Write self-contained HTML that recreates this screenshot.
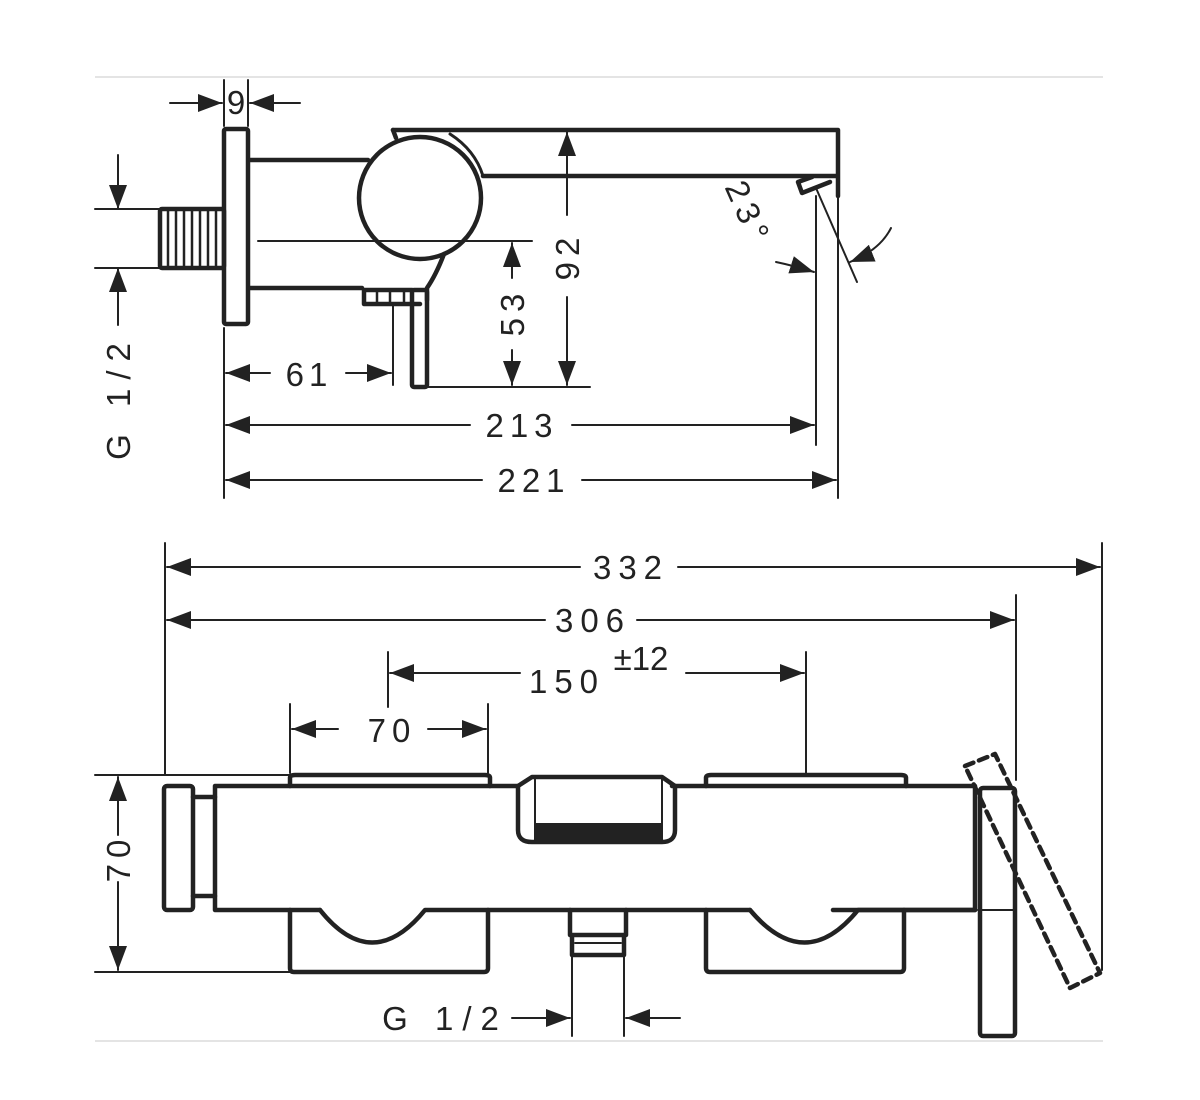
<!DOCTYPE html>
<html><head><meta charset="utf-8"><style>
html,body{margin:0;padding:0;background:#fff;}
svg{display:block;}
text{font-family:"Liberation Sans","DejaVu Sans",sans-serif;fill:#222;font-size:33px;}
</style></head><body>
<svg width="1200" height="1100" viewBox="0 0 1200 1100" xmlns="http://www.w3.org/2000/svg">
<defs>
<marker id="a" viewBox="0 0 24 18" refX="24" refY="9" markerWidth="24" markerHeight="18" markerUnits="userSpaceOnUse" orient="auto"><path d="M0,0 L24,9 L0,18 Z" fill="#222"/></marker>
</defs>
<line x1="95" y1="77" x2="1103" y2="77" stroke="#e4e4e4" stroke-width="2"/>
<line x1="95" y1="1041" x2="1103" y2="1041" stroke="#e4e4e4" stroke-width="2"/>

<g stroke="#222" fill="none" stroke-linecap="round" stroke-linejoin="round">
<g stroke-width="4.5">
<rect x="224" y="129" width="24" height="195" rx="2"/>
<rect x="160" y="209" width="64" height="59" rx="2"/>
<line x1="250" y1="160" x2="368" y2="160"/>
<line x1="250" y1="288" x2="362" y2="288"/>
<circle cx="420" cy="198" r="61"/>
<path d="M393,130 L838,130 L838,196 M483,176 L838,176"/>
<path d="M393,130 L396,138"/>
<path d="M450,134 Q475,150 483,176" stroke-width="3"/>
<path d="M812,177 L798,182 L802,193 L830,182"/>
<rect x="412" y="290" width="15" height="97" rx="2"/>
<path d="M364,290 L364,304 L420,304 M364,290 L412,290"/>
<path d="M444,254 Q436,275 427,288 L427,300"/>
</g>
<g stroke-width="2.5">
<line x1="168" y1="211" x2="168" y2="266"/><line x1="176" y1="211" x2="176" y2="266"/><line x1="184" y1="211" x2="184" y2="266"/><line x1="192" y1="211" x2="192" y2="266"/><line x1="200" y1="211" x2="200" y2="266"/><line x1="208" y1="211" x2="208" y2="266"/><line x1="216" y1="211" x2="216" y2="266"/>
<line x1="377" y1="292" x2="377" y2="303"/><line x1="390" y1="292" x2="390" y2="303"/><line x1="404" y1="292" x2="404" y2="303"/>
</g>
<g stroke-width="2">
<line x1="258" y1="241" x2="532" y2="241"/>
<line x1="427" y1="387" x2="590" y2="387"/>
<line x1="224" y1="80" x2="224" y2="126"/><line x1="248" y1="80" x2="248" y2="126"/>
<line x1="170" y1="103" x2="222" y2="103" marker-end="url(#a)"/>
<line x1="300" y1="103" x2="250" y2="103" marker-end="url(#a)"/>
<line x1="95" y1="209" x2="160" y2="209"/><line x1="95" y1="268" x2="160" y2="268"/>
<line x1="118" y1="155" x2="118" y2="209" marker-end="url(#a)"/>
<line x1="118" y1="325" x2="118" y2="268" marker-end="url(#a)"/>
<line x1="512" y1="278" x2="512" y2="243" marker-end="url(#a)"/>
<line x1="512" y1="350" x2="512" y2="385" marker-end="url(#a)"/>
<line x1="567" y1="215" x2="567" y2="132" marker-end="url(#a)"/>
<line x1="567" y1="297" x2="567" y2="385" marker-end="url(#a)"/>
<line x1="224" y1="328" x2="224" y2="498"/>
<line x1="393" y1="305" x2="393" y2="385"/>
<line x1="816" y1="196" x2="816" y2="445"/>
<line x1="838" y1="196" x2="838" y2="498"/>
<line x1="270" y1="373" x2="226" y2="373" marker-end="url(#a)"/>
<line x1="346" y1="373" x2="391" y2="373" marker-end="url(#a)"/>
<line x1="470" y1="425" x2="226" y2="425" marker-end="url(#a)"/>
<line x1="572" y1="425" x2="814" y2="425" marker-end="url(#a)"/>
<line x1="482" y1="480" x2="226" y2="480" marker-end="url(#a)"/>
<line x1="582" y1="480" x2="836" y2="480" marker-end="url(#a)"/>
<line x1="816" y1="188" x2="857" y2="282"/>
<path d="M776,262 Q795,266 814,272" marker-end="url(#a)"/>
<path d="M891,228 Q880,250 850,262" marker-end="url(#a)"/>
</g>

<g stroke-width="4.5">
<rect x="164" y="786" width="29" height="124" rx="3"/>
<path d="M193,797 L215,797 M193,896 L215,896"/>
<path d="M215,786 L518,786 M672,786 L975,786 L975,910 L833,910 M215,786 L215,910 L320,910"/>
<path d="M320,910 Q372,975 425,910 L750,910"/>
<path d="M750,910 Q805,975 858,910 L975,910"/>
<path d="M290,786 L290,778 Q290,775 295,775 L485,775 Q490,775 490,778 L490,786"/>
<path d="M706,786 L706,778 Q706,775 711,775 L901,775 Q906,775 906,778 L906,786"/>
<path d="M290,910 L290,968 Q290,972 294,972 L484,972 Q488,972 488,968 L488,910"/>
<path d="M706,910 L706,968 Q706,972 710,972 L900,972 Q904,972 904,968 L904,910"/>
<path d="M518,786 L518,830 Q518,842 532,842 L662,842 Q675,842 675,830 L675,786 L662,777 L532,777 Z"/>
<rect x="980" y="788" width="35" height="248" rx="3"/>
<path d="M570,910 L570,935 L626,935 L626,910 M572,935 L572,955 L624,955 L624,935"/>
</g>
<rect x="535" y="823" width="127" height="18" fill="#222" stroke="none"/>
<g stroke-width="2">
<line x1="535" y1="778" x2="535" y2="840"/><line x1="662" y1="778" x2="662" y2="840"/>
<line x1="978" y1="910" x2="1015" y2="910"/>
<line x1="575" y1="943" x2="621" y2="943"/>
</g>
<g stroke-width="4.5" stroke-dasharray="9,6">
<path d="M965,766 L995,754 L1100,973 L1070,988 Z"/>
</g>
<g stroke-width="2">
<line x1="165" y1="543" x2="165" y2="775"/>
<line x1="1102" y1="543" x2="1102" y2="970"/>
<line x1="1016" y1="595" x2="1016" y2="780"/>
<line x1="388" y1="652" x2="388" y2="707"/>
<line x1="806" y1="652" x2="806" y2="773"/>
<line x1="290" y1="704" x2="290" y2="773"/>
<line x1="488" y1="704" x2="488" y2="773"/>
<line x1="95" y1="775" x2="290" y2="775"/>
<line x1="95" y1="972" x2="290" y2="972"/>
<line x1="572" y1="955" x2="572" y2="1036"/>
<line x1="624" y1="955" x2="624" y2="1036"/>
<line x1="580" y1="567" x2="167" y2="567" marker-end="url(#a)"/>
<line x1="678" y1="567" x2="1100" y2="567" marker-end="url(#a)"/>
<line x1="545" y1="620" x2="167" y2="620" marker-end="url(#a)"/>
<line x1="637" y1="620" x2="1014" y2="620" marker-end="url(#a)"/>
<line x1="520" y1="673" x2="390" y2="673" marker-end="url(#a)"/>
<line x1="686" y1="673" x2="804" y2="673" marker-end="url(#a)"/>
<line x1="338" y1="729" x2="292" y2="729" marker-end="url(#a)"/>
<line x1="428" y1="729" x2="486" y2="729" marker-end="url(#a)"/>
<line x1="118" y1="835" x2="118" y2="777" marker-end="url(#a)"/>
<line x1="118" y1="882" x2="118" y2="970" marker-end="url(#a)"/>
<line x1="512" y1="1018" x2="570" y2="1018" marker-end="url(#a)"/>
<line x1="680" y1="1018" x2="626" y2="1018" marker-end="url(#a)"/>
</g>
</g>

<text x="236" y="114" text-anchor="middle" font-size="31">9</text>
<text transform="translate(130,397) rotate(-90)" text-anchor="middle" letter-spacing="9">G 1/2</text>
<text transform="translate(524,312) rotate(-90)" text-anchor="middle" letter-spacing="6">53</text>
<text transform="translate(579,256) rotate(-90)" text-anchor="middle" letter-spacing="6">92</text>
<text x="309" y="386" text-anchor="middle" letter-spacing="5">61</text>
<text x="522" y="437" text-anchor="middle" letter-spacing="6">213</text>
<text x="534" y="492" text-anchor="middle" letter-spacing="6">221</text>
<text transform="translate(738,218) rotate(66)" text-anchor="middle" letter-spacing="6">23°</text>
<text x="631" y="579" text-anchor="middle" letter-spacing="7">332</text>
<text x="593" y="632" text-anchor="middle" letter-spacing="7">306</text>
<text x="567" y="693" text-anchor="middle" letter-spacing="7">150</text>
<text x="641" y="670" text-anchor="middle" font-size="22">±12</text>
<text x="392" y="742" text-anchor="middle" letter-spacing="6">70</text>
<text transform="translate(130,858) rotate(-90)" text-anchor="middle" letter-spacing="6">70</text>
<text x="445" y="1030" text-anchor="middle" letter-spacing="9">G 1/2</text>
</svg>
</body></html>
